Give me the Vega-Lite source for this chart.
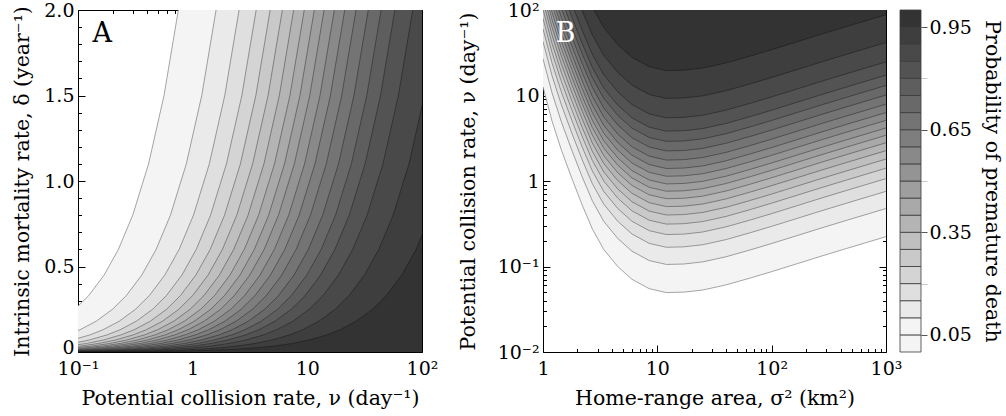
{
"$schema": "https://vega.github.io/schema/vega-lite/v6.json",
"background": "white",
"padding": {"left": 12, "top": 1, "right": 3, "bottom": 0},
"bounds": "flush",
"spacing": 121,
"datasets": {
"A": [
{"k":1,"d":2,"v":0.75},{"k":1,"d":1.5,"v":0.5625},{"k":1,"d":1.1,"v":0.4125},{"k":1,"d":0.8,"v":0.3},{"k":1,"d":0.6,"v":0.225},{"k":1,"d":0.45,"v":0.169},{"k":1,"d":0.33,"v":0.124},{"k":1,"d":0.25,"v":0.0938},{"k":1,"d":0,"v":0.0001},
{"k":2,"d":2,"v":1.6},{"k":2,"d":1.5,"v":1.2},{"k":2,"d":1.1,"v":0.88},{"k":2,"d":0.8,"v":0.64},{"k":2,"d":0.6,"v":0.48},{"k":2,"d":0.45,"v":0.36},{"k":2,"d":0.33,"v":0.264},{"k":2,"d":0.25,"v":0.2},{"k":2,"d":0.18,"v":0.144},{"k":2,"d":0.13,"v":0.104},{"k":2,"d":0.1,"v":0.08},{"k":2,"d":0,"v":0.0001},
{"k":3,"d":2,"v":2.54},{"k":3,"d":1.5,"v":1.905},{"k":3,"d":1.1,"v":1.397},{"k":3,"d":0.8,"v":1.016},{"k":3,"d":0.6,"v":0.762},{"k":3,"d":0.45,"v":0.5715},{"k":3,"d":0.33,"v":0.419},{"k":3,"d":0.25,"v":0.3175},{"k":3,"d":0.18,"v":0.2286},{"k":3,"d":0.13,"v":0.165},{"k":3,"d":0.1,"v":0.127},{"k":3,"d":0.07,"v":0.0889},{"k":3,"d":0,"v":0.0001},
{"k":4,"d":2,"v":3.58},{"k":4,"d":1.5,"v":2.685},{"k":4,"d":1.1,"v":1.969},{"k":4,"d":0.8,"v":1.432},{"k":4,"d":0.6,"v":1.074},{"k":4,"d":0.45,"v":0.8055},{"k":4,"d":0.33,"v":0.5907},{"k":4,"d":0.25,"v":0.4475},{"k":4,"d":0.18,"v":0.3222},{"k":4,"d":0.13,"v":0.2327},{"k":4,"d":0.1,"v":0.179},{"k":4,"d":0.07,"v":0.1253},{"k":4,"d":0.05,"v":0.0895},{"k":4,"d":0,"v":0.0001},
{"k":5,"d":2,"v":4.74},{"k":5,"d":1.5,"v":3.555},{"k":5,"d":1.1,"v":2.607},{"k":5,"d":0.8,"v":1.896},{"k":5,"d":0.6,"v":1.422},{"k":5,"d":0.45,"v":1.0665},{"k":5,"d":0.33,"v":0.7821},{"k":5,"d":0.25,"v":0.5925},{"k":5,"d":0.18,"v":0.4266},{"k":5,"d":0.13,"v":0.3081},{"k":5,"d":0.1,"v":0.237},{"k":5,"d":0.07,"v":0.1659},{"k":5,"d":0.05,"v":0.1185},{"k":5,"d":0.035,"v":0.083},{"k":5,"d":0,"v":0.0001},
{"k":6,"d":2,"v":6.06},{"k":6,"d":1.5,"v":4.545},{"k":6,"d":1.1,"v":3.333},{"k":6,"d":0.8,"v":2.424},{"k":6,"d":0.6,"v":1.818},{"k":6,"d":0.45,"v":1.3635},{"k":6,"d":0.33,"v":1.0},{"k":6,"d":0.25,"v":0.7575},{"k":6,"d":0.18,"v":0.5454},{"k":6,"d":0.13,"v":0.3939},{"k":6,"d":0.1,"v":0.303},{"k":6,"d":0.07,"v":0.2121},{"k":6,"d":0.05,"v":0.1515},{"k":6,"d":0.035,"v":0.106},{"k":6,"d":0.025,"v":0.0758},{"k":6,"d":0,"v":0.0001},
{"k":7,"d":2,"v":7.6},{"k":7,"d":1.5,"v":5.7},{"k":7,"d":1.1,"v":4.18},{"k":7,"d":0.8,"v":3.04},{"k":7,"d":0.6,"v":2.28},{"k":7,"d":0.45,"v":1.71},{"k":7,"d":0.33,"v":1.254},{"k":7,"d":0.25,"v":0.95},{"k":7,"d":0.18,"v":0.684},{"k":7,"d":0.13,"v":0.494},{"k":7,"d":0.1,"v":0.38},{"k":7,"d":0.07,"v":0.266},{"k":7,"d":0.05,"v":0.19},{"k":7,"d":0.035,"v":0.133},{"k":7,"d":0.025,"v":0.095},{"k":7,"d":0,"v":0.0001},
{"k":8,"d":2,"v":9.4},{"k":8,"d":1.5,"v":7.05},{"k":8,"d":1.1,"v":5.17},{"k":8,"d":0.8,"v":3.76},{"k":8,"d":0.6,"v":2.82},{"k":8,"d":0.45,"v":2.115},{"k":8,"d":0.33,"v":1.551},{"k":8,"d":0.25,"v":1.175},{"k":8,"d":0.18,"v":0.846},{"k":8,"d":0.13,"v":0.611},{"k":8,"d":0.1,"v":0.47},{"k":8,"d":0.07,"v":0.329},{"k":8,"d":0.05,"v":0.235},{"k":8,"d":0.035,"v":0.1645},{"k":8,"d":0.025,"v":0.1175},{"k":8,"d":0.018,"v":0.0846},{"k":8,"d":0,"v":0.0001},
{"k":9,"d":2,"v":11.5},{"k":9,"d":1.5,"v":8.625},{"k":9,"d":1.1,"v":6.325},{"k":9,"d":0.8,"v":4.6},{"k":9,"d":0.6,"v":3.45},{"k":9,"d":0.45,"v":2.5875},{"k":9,"d":0.33,"v":1.8975},{"k":9,"d":0.25,"v":1.4375},{"k":9,"d":0.18,"v":1.035},{"k":9,"d":0.13,"v":0.7475},{"k":9,"d":0.1,"v":0.575},{"k":9,"d":0.07,"v":0.4025},{"k":9,"d":0.05,"v":0.2875},{"k":9,"d":0.035,"v":0.2013},{"k":9,"d":0.025,"v":0.1438},{"k":9,"d":0.018,"v":0.1035},{"k":9,"d":0.012,"v":0.069},{"k":9,"d":0,"v":0.0001},
{"k":10,"d":2,"v":14},{"k":10,"d":1.5,"v":10.5},{"k":10,"d":1.1,"v":7.7},{"k":10,"d":0.8,"v":5.6},{"k":10,"d":0.6,"v":4.2},{"k":10,"d":0.45,"v":3.15},{"k":10,"d":0.33,"v":2.31},{"k":10,"d":0.25,"v":1.75},{"k":10,"d":0.18,"v":1.26},{"k":10,"d":0.13,"v":0.91},{"k":10,"d":0.1,"v":0.7},{"k":10,"d":0.07,"v":0.49},{"k":10,"d":0.05,"v":0.35},{"k":10,"d":0.035,"v":0.245},{"k":10,"d":0.025,"v":0.175},{"k":10,"d":0.018,"v":0.126},{"k":10,"d":0.012,"v":0.084},{"k":10,"d":0,"v":0.0001},
{"k":11,"d":2,"v":17.2},{"k":11,"d":1.5,"v":12.9},{"k":11,"d":1.1,"v":9.46},{"k":11,"d":0.8,"v":6.88},{"k":11,"d":0.6,"v":5.16},{"k":11,"d":0.45,"v":3.87},{"k":11,"d":0.33,"v":2.838},{"k":11,"d":0.25,"v":2.15},{"k":11,"d":0.18,"v":1.548},{"k":11,"d":0.13,"v":1.118},{"k":11,"d":0.1,"v":0.86},{"k":11,"d":0.07,"v":0.602},{"k":11,"d":0.05,"v":0.43},{"k":11,"d":0.035,"v":0.301},{"k":11,"d":0.025,"v":0.215},{"k":11,"d":0.018,"v":0.1548},{"k":11,"d":0.012,"v":0.1032},{"k":11,"d":0.008,"v":0.0688},{"k":11,"d":0,"v":0.0001},
{"k":12,"d":2,"v":21.2},{"k":12,"d":1.5,"v":15.9},{"k":12,"d":1.1,"v":11.66},{"k":12,"d":0.8,"v":8.48},{"k":12,"d":0.6,"v":6.36},{"k":12,"d":0.45,"v":4.77},{"k":12,"d":0.33,"v":3.498},{"k":12,"d":0.25,"v":2.65},{"k":12,"d":0.18,"v":1.908},{"k":12,"d":0.13,"v":1.378},{"k":12,"d":0.1,"v":1.06},{"k":12,"d":0.07,"v":0.742},{"k":12,"d":0.05,"v":0.53},{"k":12,"d":0.035,"v":0.371},{"k":12,"d":0.025,"v":0.265},{"k":12,"d":0.018,"v":0.1908},{"k":12,"d":0.012,"v":0.1272},{"k":12,"d":0.008,"v":0.0848},{"k":12,"d":0,"v":0.0001},
{"k":13,"d":2,"v":26.6},{"k":13,"d":1.5,"v":19.95},{"k":13,"d":1.1,"v":14.63},{"k":13,"d":0.8,"v":10.64},{"k":13,"d":0.6,"v":7.98},{"k":13,"d":0.45,"v":5.985},{"k":13,"d":0.33,"v":4.389},{"k":13,"d":0.25,"v":3.325},{"k":13,"d":0.18,"v":2.394},{"k":13,"d":0.13,"v":1.729},{"k":13,"d":0.1,"v":1.33},{"k":13,"d":0.07,"v":0.931},{"k":13,"d":0.05,"v":0.665},{"k":13,"d":0.035,"v":0.4655},{"k":13,"d":0.025,"v":0.3325},{"k":13,"d":0.018,"v":0.2394},{"k":13,"d":0.012,"v":0.1596},{"k":13,"d":0.008,"v":0.1064},{"k":13,"d":0.005,"v":0.0665},{"k":13,"d":0,"v":0.0001},
{"k":14,"d":2,"v":34},{"k":14,"d":1.5,"v":25.5},{"k":14,"d":1.1,"v":18.7},{"k":14,"d":0.8,"v":13.6},{"k":14,"d":0.6,"v":10.2},{"k":14,"d":0.45,"v":7.65},{"k":14,"d":0.33,"v":5.61},{"k":14,"d":0.25,"v":4.25},{"k":14,"d":0.18,"v":3.06},{"k":14,"d":0.13,"v":2.21},{"k":14,"d":0.1,"v":1.7},{"k":14,"d":0.07,"v":1.19},{"k":14,"d":0.05,"v":0.85},{"k":14,"d":0.035,"v":0.595},{"k":14,"d":0.025,"v":0.425},{"k":14,"d":0.018,"v":0.306},{"k":14,"d":0.012,"v":0.204},{"k":14,"d":0.008,"v":0.136},{"k":14,"d":0.005,"v":0.085},{"k":14,"d":0,"v":0.0001},
{"k":15,"d":2,"v":44},{"k":15,"d":1.5,"v":33},{"k":15,"d":1.1,"v":24.2},{"k":15,"d":0.8,"v":17.6},{"k":15,"d":0.6,"v":13.2},{"k":15,"d":0.45,"v":9.9},{"k":15,"d":0.33,"v":7.26},{"k":15,"d":0.25,"v":5.5},{"k":15,"d":0.18,"v":3.96},{"k":15,"d":0.13,"v":2.86},{"k":15,"d":0.1,"v":2.2},{"k":15,"d":0.07,"v":1.54},{"k":15,"d":0.05,"v":1.1},{"k":15,"d":0.035,"v":0.77},{"k":15,"d":0.025,"v":0.55},{"k":15,"d":0.018,"v":0.396},{"k":15,"d":0.012,"v":0.264},{"k":15,"d":0.008,"v":0.176},{"k":15,"d":0.005,"v":0.11},{"k":15,"d":0.003,"v":0.066},{"k":15,"d":0,"v":0.0001},
{"k":16,"d":2,"v":58},{"k":16,"d":1.5,"v":43.5},{"k":16,"d":1.1,"v":31.9},{"k":16,"d":0.8,"v":23.2},{"k":16,"d":0.6,"v":17.4},{"k":16,"d":0.45,"v":13.05},{"k":16,"d":0.33,"v":9.57},{"k":16,"d":0.25,"v":7.25},{"k":16,"d":0.18,"v":5.22},{"k":16,"d":0.13,"v":3.77},{"k":16,"d":0.1,"v":2.9},{"k":16,"d":0.07,"v":2.03},{"k":16,"d":0.05,"v":1.45},{"k":16,"d":0.035,"v":1.015},{"k":16,"d":0.025,"v":0.725},{"k":16,"d":0.018,"v":0.522},{"k":16,"d":0.012,"v":0.348},{"k":16,"d":0.008,"v":0.232},{"k":16,"d":0.005,"v":0.145},{"k":16,"d":0.003,"v":0.087},{"k":16,"d":0,"v":0.0001},
{"k":17,"d":2,"v":83},{"k":17,"d":1.5,"v":62.25},{"k":17,"d":1.1,"v":45.65},{"k":17,"d":0.8,"v":33.2},{"k":17,"d":0.6,"v":24.9},{"k":17,"d":0.45,"v":18.68},{"k":17,"d":0.33,"v":13.7},{"k":17,"d":0.25,"v":10.38},{"k":17,"d":0.18,"v":7.47},{"k":17,"d":0.13,"v":5.395},{"k":17,"d":0.1,"v":4.15},{"k":17,"d":0.07,"v":2.905},{"k":17,"d":0.05,"v":2.075},{"k":17,"d":0.035,"v":1.453},{"k":17,"d":0.025,"v":1.038},{"k":17,"d":0.018,"v":0.747},{"k":17,"d":0.012,"v":0.498},{"k":17,"d":0.008,"v":0.332},{"k":17,"d":0.005,"v":0.2075},{"k":17,"d":0.003,"v":0.1245},{"k":17,"d":0.0015,"v":0.0623},{"k":17,"d":0,"v":0.0001},
{"k":18,"d":2,"v":140},{"k":18,"d":1.5,"v":105},{"k":18,"d":1.1,"v":77},{"k":18,"d":0.8,"v":56},{"k":18,"d":0.6,"v":42},{"k":18,"d":0.45,"v":31.5},{"k":18,"d":0.33,"v":23.1},{"k":18,"d":0.25,"v":17.5},{"k":18,"d":0.18,"v":12.6},{"k":18,"d":0.13,"v":9.1},{"k":18,"d":0.1,"v":7},{"k":18,"d":0.07,"v":4.9},{"k":18,"d":0.05,"v":3.5},{"k":18,"d":0.035,"v":2.45},{"k":18,"d":0.025,"v":1.75},{"k":18,"d":0.018,"v":1.26},{"k":18,"d":0.012,"v":0.84},{"k":18,"d":0.008,"v":0.56},{"k":18,"d":0.005,"v":0.35},{"k":18,"d":0.003,"v":0.21},{"k":18,"d":0.0015,"v":0.105},{"k":18,"d":0.0007,"v":0.049},{"k":18,"d":0,"v":0.0001},
{"k":19,"d":0.8,"v":118.4},{"k":19,"d":0.6,"v":88.8},{"k":19,"d":0.45,"v":66.6},{"k":19,"d":0.33,"v":48.84},{"k":19,"d":0.25,"v":37},{"k":19,"d":0.18,"v":26.64},{"k":19,"d":0.13,"v":19.24},{"k":19,"d":0.1,"v":14.8},{"k":19,"d":0.07,"v":10.36},{"k":19,"d":0.05,"v":7.4},{"k":19,"d":0.035,"v":5.18},{"k":19,"d":0.025,"v":3.7},{"k":19,"d":0.018,"v":2.664},{"k":19,"d":0.012,"v":1.776},{"k":19,"d":0.008,"v":1.184},{"k":19,"d":0.005,"v":0.74},{"k":19,"d":0.003,"v":0.444},{"k":19,"d":0.0015,"v":0.222},{"k":19,"d":0.0007,"v":0.1036},{"k":19,"d":0.0003,"v":0.0444},{"k":19,"d":0,"v":0.0001}
],
"B": [
{"k":1,"s":1,"v":12.6},{"k":1,"s":1.2,"v":5.01},{"k":1,"s":1.45,"v":2.29},{"k":1,"s":1.8,"v":1.047},{"k":1,"s":2.2,"v":0.525},{"k":1,"s":2.7,"v":0.275},{"k":1,"s":3.4,"v":0.158},{"k":1,"s":4.5,"v":0.1},{"k":1,"s":6,"v":0.0708},{"k":1,"s":8.5,"v":0.055},{"k":1,"s":12,"v":0.04955},{"k":1,"s":17,"v":0.0501},{"k":1,"s":25,"v":0.0531},{"k":1,"s":40,"v":0.061},{"k":1,"s":65,"v":0.0733},{"k":1,"s":100,"v":0.0871},{"k":1,"s":160,"v":0.1059},{"k":1,"s":270,"v":0.1318},{"k":1,"s":450,"v":0.1622},{"k":1,"s":1000,"v":0.2234},
{"k":2,"s":1,"v":26.9},{"k":2,"s":1.2,"v":10.69},{"k":2,"s":1.45,"v":4.885},{"k":2,"s":1.8,"v":2.233},{"k":2,"s":2.2,"v":1.12},{"k":2,"s":2.7,"v":0.587},{"k":2,"s":3.4,"v":0.337},{"k":2,"s":4.5,"v":0.2133},{"k":2,"s":6,"v":0.151},{"k":2,"s":8.5,"v":0.1173},{"k":2,"s":12,"v":0.1057},{"k":2,"s":17,"v":0.1069},{"k":2,"s":25,"v":0.1133},{"k":2,"s":40,"v":0.1301},{"k":2,"s":65,"v":0.1564},{"k":2,"s":100,"v":0.1858},{"k":2,"s":160,"v":0.2259},{"k":2,"s":270,"v":0.2811},{"k":2,"s":450,"v":0.346},{"k":2,"s":1000,"v":0.4765},
{"k":3,"s":1,"v":42.7},{"k":3,"s":1.2,"v":16.97},{"k":3,"s":1.45,"v":7.756},{"k":3,"s":1.8,"v":3.546},{"k":3,"s":2.2,"v":1.778},{"k":3,"s":2.7,"v":0.9314},{"k":3,"s":3.4,"v":0.5351},{"k":3,"s":4.5,"v":0.3387},{"k":3,"s":6,"v":0.2398},{"k":3,"s":8.5,"v":0.1863},{"k":3,"s":12,"v":0.1678},{"k":3,"s":17,"v":0.1697},{"k":3,"s":25,"v":0.1798},{"k":3,"s":40,"v":0.2066},{"k":3,"s":65,"v":0.2483},{"k":3,"s":100,"v":0.295},{"k":3,"s":160,"v":0.3587},{"k":3,"s":270,"v":0.4464},{"k":3,"s":450,"v":0.5494},{"k":3,"s":1000,"v":0.7566},
{"k":4,"s":1,"v":60.1},{"k":4,"s":1.2,"v":23.91},{"k":4,"s":1.45,"v":10.93},{"k":4,"s":1.8,"v":4.997},{"k":4,"s":2.2,"v":2.506},{"k":4,"s":2.7,"v":1.313},{"k":4,"s":3.4,"v":0.7541},{"k":4,"s":4.5,"v":0.4773},{"k":4,"s":6,"v":0.3379},{"k":4,"s":8.5,"v":0.2625},{"k":4,"s":12,"v":0.2365},{"k":4,"s":17,"v":0.2391},{"k":4,"s":25,"v":0.2534},{"k":4,"s":40,"v":0.2912},{"k":4,"s":65,"v":0.3499},{"k":4,"s":100,"v":0.4157},{"k":4,"s":160,"v":0.5055},{"k":4,"s":270,"v":0.6291},{"k":4,"s":450,"v":0.7742},{"k":4,"s":1000,"v":1.0663},
{"k":5,"s":1,"v":79.6},{"k":5,"s":1.2,"v":31.66},{"k":5,"s":1.45,"v":14.47},{"k":5,"s":1.8,"v":6.617},{"k":5,"s":2.2,"v":3.318},{"k":5,"s":2.7,"v":1.738},{"k":5,"s":3.4,"v":0.9986},{"k":5,"s":4.5,"v":0.632},{"k":5,"s":6,"v":0.4475},{"k":5,"s":8.5,"v":0.3476},{"k":5,"s":12,"v":0.3132},{"k":5,"s":17,"v":0.3166},{"k":5,"s":25,"v":0.3356},{"k":5,"s":40,"v":0.3855},{"k":5,"s":65,"v":0.4633},{"k":5,"s":100,"v":0.5505},{"k":5,"s":160,"v":0.6693},{"k":5,"s":270,"v":0.833},{"k":5,"s":450,"v":1.0251},{"k":5,"s":1000,"v":1.4119},
{"k":6,"s":1,"v":101.8},{"k":6,"s":1.2,"v":40.48},{"k":6,"s":1.45,"v":18.5},{"k":6,"s":1.8,"v":8.46},{"k":6,"s":2.2,"v":4.242},{"k":6,"s":2.7,"v":2.222},{"k":6,"s":3.4,"v":1.277},{"k":6,"s":4.5,"v":0.808},{"k":6,"s":6,"v":0.5721},{"k":6,"s":8.5,"v":0.4444},{"k":6,"s":12,"v":0.4004},{"k":6,"s":17,"v":0.4048},{"k":6,"s":25,"v":0.429},{"k":6,"s":40,"v":0.4929},{"k":6,"s":65,"v":0.5923},{"k":6,"s":100,"v":0.7038},{"k":6,"s":160,"v":0.8557},{"k":6,"s":270,"v":1.0649},{"k":6,"s":450,"v":1.3106},{"k":6,"s":1000,"v":1.8051},
{"k":7,"s":1,"v":127.6},{"k":7,"s":1.2,"v":50.75},{"k":7,"s":1.45,"v":23.2},{"k":7,"s":1.8,"v":10.61},{"k":7,"s":2.2,"v":5.318},{"k":7,"s":2.7,"v":2.786},{"k":7,"s":3.4,"v":1.601},{"k":7,"s":4.5,"v":1.013},{"k":7,"s":6,"v":0.7172},{"k":7,"s":8.5,"v":0.5572},{"k":7,"s":12,"v":0.5019},{"k":7,"s":17,"v":0.5075},{"k":7,"s":25,"v":0.5379},{"k":7,"s":40,"v":0.6179},{"k":7,"s":65,"v":0.7425},{"k":7,"s":100,"v":0.8823},{"k":7,"s":160,"v":1.0728},{"k":7,"s":270,"v":1.3351},{"k":7,"s":450,"v":1.6431},{"k":7,"s":1000,"v":2.263},
{"k":8,"s":1,"v":157.9},{"k":8,"s":1.2,"v":62.78},{"k":8,"s":1.45,"v":28.69},{"k":8,"s":1.8,"v":13.12},{"k":8,"s":2.2,"v":6.578},{"k":8,"s":2.7,"v":3.446},{"k":8,"s":3.4,"v":1.98},{"k":8,"s":4.5,"v":1.253},{"k":8,"s":6,"v":0.8871},{"k":8,"s":8.5,"v":0.6892},{"k":8,"s":12,"v":0.6209},{"k":8,"s":17,"v":0.6278},{"k":8,"s":25,"v":0.6653},{"k":8,"s":40,"v":0.7643},{"k":8,"s":65,"v":0.9184},{"k":8,"s":100,"v":1.0914},{"k":8,"s":160,"v":1.3269},{"k":8,"s":270,"v":1.6515},{"k":8,"s":450,"v":2.0324},{"k":8,"s":1000,"v":2.7992},
{"k":9,"s":1,"v":193.2},{"k":9,"s":1.2,"v":76.8},{"k":9,"s":1.45,"v":35.1},{"k":9,"s":1.8,"v":16.05},{"k":9,"s":2.2,"v":8.048},{"k":9,"s":2.7,"v":4.216},{"k":9,"s":3.4,"v":2.422},{"k":9,"s":4.5,"v":1.533},{"k":9,"s":6,"v":1.0854},{"k":9,"s":8.5,"v":0.8432},{"k":9,"s":12,"v":0.7596},{"k":9,"s":17,"v":0.768},{"k":9,"s":25,"v":0.814},{"k":9,"s":40,"v":0.9351},{"k":9,"s":65,"v":1.1237},{"k":9,"s":100,"v":1.3352},{"k":9,"s":160,"v":1.6234},{"k":9,"s":270,"v":2.0205},{"k":9,"s":450,"v":2.4865},{"k":9,"s":1000,"v":3.4247},
{"k":10,"s":1,"v":235},{"k":10,"s":1.2,"v":93.5},{"k":10,"s":1.45,"v":42.75},{"k":10,"s":1.8,"v":19.55},{"k":10,"s":2.2,"v":9.8},{"k":10,"s":2.7,"v":5.134},{"k":10,"s":3.4,"v":2.95},{"k":10,"s":4.5,"v":1.867},{"k":10,"s":6,"v":1.3218},{"k":10,"s":8.5,"v":1.0269},{"k":10,"s":12,"v":0.9251},{"k":10,"s":17,"v":0.9354},{"k":10,"s":25,"v":0.9914},{"k":10,"s":40,"v":1.1389},{"k":10,"s":65,"v":1.3685},{"k":10,"s":100,"v":1.6262},{"k":10,"s":160,"v":1.9772},{"k":10,"s":270,"v":2.4607},{"k":10,"s":450,"v":3.0283},{"k":10,"s":1000,"v":4.1709},
{"k":11,"s":1.2,"v":114.9},{"k":11,"s":1.45,"v":52.51},{"k":11,"s":1.8,"v":24.01},{"k":11,"s":2.2,"v":12.04},{"k":11,"s":2.7,"v":6.306},{"k":11,"s":3.4,"v":3.623},{"k":11,"s":4.5,"v":2.293},{"k":11,"s":6,"v":1.6234},{"k":11,"s":8.5,"v":1.2612},{"k":11,"s":12,"v":1.1362},{"k":11,"s":17,"v":1.1488},{"k":11,"s":25,"v":1.2176},{"k":11,"s":40,"v":1.3987},{"k":11,"s":65,"v":1.6808},{"k":11,"s":100,"v":1.9972},{"k":11,"s":160,"v":2.4283},{"k":11,"s":270,"v":3.0222},{"k":11,"s":450,"v":3.7192},{"k":11,"s":1000,"v":5.1226},
{"k":12,"s":1.2,"v":141.6},{"k":12,"s":1.45,"v":64.74},{"k":12,"s":1.8,"v":29.6},{"k":12,"s":2.2,"v":14.84},{"k":12,"s":2.7,"v":7.774},{"k":12,"s":3.4,"v":4.467},{"k":12,"s":4.5,"v":2.827},{"k":12,"s":6,"v":2.0015},{"k":12,"s":8.5,"v":1.5549},{"k":12,"s":12,"v":1.4008},{"k":12,"s":17,"v":1.4163},{"k":12,"s":25,"v":1.5011},{"k":12,"s":40,"v":1.7245},{"k":12,"s":65,"v":2.0722},{"k":12,"s":100,"v":2.4623},{"k":12,"s":160,"v":2.9938},{"k":12,"s":270,"v":3.726},{"k":12,"s":450,"v":4.5854},{"k":12,"s":1000,"v":6.3155},
{"k":13,"s":1.2,"v":177.7},{"k":13,"s":1.45,"v":81.23},{"k":13,"s":1.8,"v":37.14},{"k":13,"s":2.2,"v":18.62},{"k":13,"s":2.7,"v":9.754},{"k":13,"s":3.4,"v":5.604},{"k":13,"s":4.5,"v":3.547},{"k":13,"s":6,"v":2.5113},{"k":13,"s":8.5,"v":1.9509},{"k":13,"s":12,"v":1.7575},{"k":13,"s":17,"v":1.777},{"k":13,"s":25,"v":1.8835},{"k":13,"s":40,"v":2.1637},{"k":13,"s":65,"v":2.6},{"k":13,"s":100,"v":3.0894},{"k":13,"s":160,"v":3.7563},{"k":13,"s":270,"v":4.6749},{"k":13,"s":450,"v":5.7532},{"k":13,"s":1000,"v":7.924},
{"k":14,"s":1.45,"v":103.8},{"k":14,"s":1.8,"v":47.46},{"k":14,"s":2.2,"v":23.8},{"k":14,"s":2.7,"v":12.47},{"k":14,"s":3.4,"v":7.162},{"k":14,"s":4.5,"v":4.533},{"k":14,"s":6,"v":3.2094},{"k":14,"s":8.5,"v":2.4932},{"k":14,"s":12,"v":2.2461},{"k":14,"s":17,"v":2.271},{"k":14,"s":25,"v":2.407},{"k":14,"s":40,"v":2.7651},{"k":14,"s":65,"v":3.3227},{"k":14,"s":100,"v":3.9482},{"k":14,"s":160,"v":4.8004},{"k":14,"s":270,"v":5.9745},{"k":14,"s":450,"v":7.3525},{"k":14,"s":1000,"v":10.127},
{"k":15,"s":1.45,"v":134.4},{"k":15,"s":1.8,"v":61.43},{"k":15,"s":2.2,"v":30.8},{"k":15,"s":2.7,"v":16.13},{"k":15,"s":3.4,"v":9.27},{"k":15,"s":4.5,"v":5.867},{"k":15,"s":6,"v":4.1538},{"k":15,"s":8.5,"v":3.2269},{"k":15,"s":12,"v":2.9071},{"k":15,"s":17,"v":2.9394},{"k":15,"s":25,"v":3.1154},{"k":15,"s":40,"v":3.5789},{"k":15,"s":65,"v":4.3005},{"k":15,"s":100,"v":5.1102},{"k":15,"s":160,"v":6.2132},{"k":15,"s":270,"v":7.7327},{"k":15,"s":450,"v":9.5163},{"k":15,"s":1000,"v":13.107},
{"k":16,"s":1.45,"v":177.1},{"k":16,"s":1.8,"v":80.97},{"k":16,"s":2.2,"v":40.6},{"k":16,"s":2.7,"v":21.27},{"k":16,"s":3.4,"v":12.22},{"k":16,"s":4.5,"v":7.733},{"k":16,"s":6,"v":5.475},{"k":16,"s":8.5,"v":4.2532},{"k":16,"s":12,"v":3.8317},{"k":16,"s":17,"v":3.8742},{"k":16,"s":25,"v":4.1062},{"k":16,"s":40,"v":4.7171},{"k":16,"s":65,"v":5.6683},{"k":16,"s":100,"v":6.7354},{"k":16,"s":160,"v":8.1892},{"k":16,"s":270,"v":10.192},{"k":16,"s":450,"v":12.543},{"k":16,"s":1000,"v":17.276},
{"k":17,"s":1.8,"v":115.9},{"k":17,"s":2.2,"v":58.12},{"k":17,"s":2.7,"v":30.44},{"k":17,"s":3.4,"v":17.49},{"k":17,"s":4.5,"v":11.07},{"k":17,"s":6,"v":7.8376},{"k":17,"s":8.5,"v":6.0885},{"k":17,"s":12,"v":5.4852},{"k":17,"s":17,"v":5.5461},{"k":17,"s":25,"v":5.8782},{"k":17,"s":40,"v":6.7527},{"k":17,"s":65,"v":8.1143},{"k":17,"s":100,"v":9.642},{"k":17,"s":160,"v":11.723},{"k":17,"s":270,"v":14.59},{"k":17,"s":450,"v":17.956},{"k":17,"s":1000,"v":24.73},
{"k":18,"s":1.8,"v":195.5},{"k":18,"s":2.2,"v":98.02},{"k":18,"s":2.7,"v":51.34},{"k":18,"s":3.4,"v":29.5},{"k":18,"s":4.5,"v":18.67},{"k":18,"s":6,"v":13.218},{"k":18,"s":8.5,"v":10.269},{"k":18,"s":12,"v":9.251},{"k":18,"s":17,"v":9.3537},{"k":18,"s":25,"v":9.9138},{"k":18,"s":40,"v":11.389},{"k":18,"s":65,"v":13.685},{"k":18,"s":100,"v":16.262},{"k":18,"s":160,"v":19.772},{"k":18,"s":270,"v":24.607},{"k":18,"s":450,"v":30.283},{"k":18,"s":1000,"v":41.709},
{"k":19,"s":2.7,"v":108.5},{"k":19,"s":3.4,"v":62.36},{"k":19,"s":4.5,"v":39.47},{"k":19,"s":6,"v":27.945},{"k":19,"s":8.5,"v":21.709},{"k":19,"s":12,"v":19.557},{"k":19,"s":17,"v":19.774},{"k":19,"s":25,"v":20.958},{"k":19,"s":40,"v":24.077},{"k":19,"s":65,"v":28.931},{"k":19,"s":100,"v":34.378},{"k":19,"s":160,"v":41.799},{"k":19,"s":270,"v":52.021},{"k":19,"s":450,"v":64.02},{"k":19,"s":1000,"v":88.175}
],
"cb": [
{"k":0,"lo":0,"hi":0.05},{"k":1,"lo":0.05,"hi":0.1},{"k":2,"lo":0.1,"hi":0.15},{"k":3,"lo":0.15,"hi":0.2},{"k":4,"lo":0.2,"hi":0.25},{"k":5,"lo":0.25,"hi":0.3},{"k":6,"lo":0.3,"hi":0.35},{"k":7,"lo":0.35,"hi":0.4},{"k":8,"lo":0.4,"hi":0.45},{"k":9,"lo":0.45,"hi":0.5},{"k":10,"lo":0.5,"hi":0.55},{"k":11,"lo":0.55,"hi":0.6},{"k":12,"lo":0.6,"hi":0.65},{"k":13,"lo":0.65,"hi":0.7},{"k":14,"lo":0.7,"hi":0.75},{"k":15,"lo":0.75,"hi":0.8},{"k":16,"lo":0.8,"hi":0.85},{"k":17,"lo":0.85,"hi":0.9},{"k":18,"lo":0.9,"hi":0.95},{"k":19,"lo":0.95,"hi":1}
]
},
"hconcat": [
{
"width": 344, "height": 342,
"resolve": {"axis": {"x": "independent", "y": "independent"}},
"layer": [
{
"data": {"name": "A"},
"mark": {"type": "area", "orient": "horizontal", "clip": true},
"encoding": {
"y": {"field": "d", "type": "quantitative", "scale": {"domain": [0, 2], "nice": false, "zero": false},
 "axis": {"orient": "left", "values": [0, 0.5, 1, 1.5, 2], "labelExpr": "datum.value == 0 ? '0' : format(datum.value, '.1f')", "labelOffset": {"condition": {"test": "datum.value == 0", "value": -5}, "value": 0}, "tickSize": -7, "labelPadding": 11, "title": "Intrinsic mortality rate, δ (year⁻¹)", "titleX": -50, "titleBaseline": "alphabetic"}},
"x": {"field": "v", "type": "quantitative", "scale": {"type": "log", "domain": [0.1, 100], "nice": false},
 "axis": {"orient": "bottom", "values": [0.1, 1, 10, 100], "labelExpr": "datum.value < 0.5 ? '10⁻¹' : datum.value < 5 ? '1' : datum.value < 50 ? '10' : '10²'", "tickSize": -7, "labelPadding": 14, "title": "Potential collision rate, ν (day⁻¹)", "titleY": 52, "titleBaseline": "alphabetic"}},
"x2": {"datum": 1000000},
"fill": {"field": "k", "type": "ordinal", "legend": null,
 "scale": {"domain": [1,2,3,4,5,6,7,8,9,10,11,12,13,14,15,16,17,18,19], "range": ["#f4f4f4","#eaeaea","#dfdfdf","#d4d4d4","#c9c9c9","#bfbfbf","#b4b4b4","#a9a9a9","#9e9e9e","#949494","#898989","#7e7e7e","#747474","#696969","#5e5e5e","#535353","#494949","#3e3e3e","#333333"]}}
}
},
{
"data": {"name": "A"},
"mark": {"type": "line", "orient": "horizontal", "clip": true, "strokeWidth": 0.7},
"encoding": {
"y": {"field": "d", "type": "quantitative", "scale": {"domain": [0, 2], "nice": false, "zero": false},
 "axis": {"orient": "left", "values": [0.1,0.2,0.3,0.4,0.6,0.7,0.8,0.9,1.1,1.2,1.3,1.4,1.6,1.7,1.8,1.9], "labels": false, "tickSize": -3.5, "title": null, "domain": false}},
"x": {"field": "v", "type": "quantitative", "scale": {"type": "log", "domain": [0.1, 100], "nice": false},
 "axis": {"orient": "bottom", "values": [0.2,0.3,0.4,0.5,0.6,0.7,0.8,0.9,2,3,4,5,6,7,8,9,20,30,40,50,60,70,80,90], "labels": false, "tickSize": -3.5, "title": null, "domain": false}},
"detail": {"field": "k", "type": "nominal"},
"stroke": {"field": "k", "type": "quantitative", "legend": null, "scale": {"domain": [1, 19], "range": ["#808080", "#1e1e1e"]}}
}
},
{
"data": {"values": [{"t": "A", "x": 0.163, "y": 1.813}]},
"mark": {"type": "text", "fontSize": 27, "font": "DejaVu Serif", "align": "center", "baseline": "alphabetic", "color": "#000"},
"encoding": {
"y": {"field": "y", "type": "quantitative", "scale": {"domain": [0, 2], "nice": false, "zero": false},
 "axis": {"orient": "right", "values": [0, 0.5, 1, 1.5, 2], "labels": false, "tickSize": -7, "title": null}},
"x": {"field": "x", "type": "quantitative", "scale": {"type": "log", "domain": [0.1, 100], "nice": false},
 "axis": {"orient": "top", "values": [0.1, 1, 10, 100], "labels": false, "tickSize": -7, "title": null}},
"text": {"field": "t"}
}
},
{
"data": {"values": [{"t": "", "x": 1, "y": 1}]},
"mark": {"type": "text", "opacity": 0},
"encoding": {
"y": {"field": "y", "type": "quantitative", "scale": {"domain": [0, 2], "nice": false, "zero": false},
 "axis": {"orient": "right", "values": [0.1,0.2,0.3,0.4,0.6,0.7,0.8,0.9,1.1,1.2,1.3,1.4,1.6,1.7,1.8,1.9], "labels": false, "tickSize": -3.5, "title": null, "domain": false}},
"x": {"field": "x", "type": "quantitative", "scale": {"type": "log", "domain": [0.1, 100], "nice": false},
 "axis": {"orient": "top", "values": [0.2,0.3,0.4,0.5,0.6,0.7,0.8,0.9,2,3,4,5,6,7,8,9,20,30,40,50,60,70,80,90], "labels": false, "tickSize": -3.5, "title": null, "domain": false}},
"text": {"field": "t"}
}
}
]
},
{
"bounds": "flush",
"spacing": 14,
"hconcat": [
{
"width": 343, "height": 342,
"resolve": {"axis": {"x": "independent", "y": "independent"}},
"layer": [
{
"data": {"name": "B"},
"mark": {"type": "area", "orient": "vertical", "clip": true},
"encoding": {
"x": {"field": "s", "type": "quantitative", "scale": {"type": "log", "domain": [1, 1000], "nice": false},
 "axis": {"orient": "bottom", "values": [1, 10, 100, 1000], "labelExpr": "datum.value < 5 ? '1' : datum.value < 50 ? '10' : datum.value < 500 ? '10²' : '10³'", "tickSize": -7, "labelPadding": 14, "title": "Home-range area, σ² (km²)", "titleY": 52, "titleBaseline": "alphabetic"}},
"y": {"field": "v", "type": "quantitative", "scale": {"type": "log", "domain": [0.01, 100], "nice": false},
 "axis": {"orient": "left", "values": [0.01, 0.1, 1, 10, 100], "labelExpr": "datum.value < 0.05 ? '10⁻²' : datum.value < 0.5 ? '10⁻¹' : datum.value < 5 ? '1' : datum.value < 50 ? '10' : '10²'", "tickSize": -7, "labelPadding": 11, "title": "Potential collision rate, ν (day⁻¹)", "titleX": -69, "titleBaseline": "alphabetic"}},
"y2": {"datum": 1000000},
"fill": {"field": "k", "type": "ordinal", "legend": null,
 "scale": {"domain": [1,2,3,4,5,6,7,8,9,10,11,12,13,14,15,16,17,18,19], "range": ["#f4f4f4","#eaeaea","#dfdfdf","#d4d4d4","#c9c9c9","#bfbfbf","#b4b4b4","#a9a9a9","#9e9e9e","#949494","#898989","#7e7e7e","#747474","#696969","#5e5e5e","#535353","#494949","#3e3e3e","#333333"]}}
}
},
{
"data": {"name": "B"},
"mark": {"type": "line", "clip": true, "strokeWidth": 0.7},
"encoding": {
"x": {"field": "s", "type": "quantitative", "scale": {"type": "log", "domain": [1, 1000], "nice": false},
 "axis": {"orient": "bottom", "values": [2,3,4,5,6,7,8,9,20,30,40,50,60,70,80,90,200,300,400,500,600,700,800,900], "labels": false, "tickSize": -3.5, "title": null, "domain": false}},
"y": {"field": "v", "type": "quantitative", "scale": {"type": "log", "domain": [0.01, 100], "nice": false},
 "axis": {"orient": "left", "values": [0.02,0.03,0.04,0.05,0.06,0.07,0.08,0.09,0.2,0.3,0.4,0.5,0.6,0.7,0.8,0.9,2,3,4,5,6,7,8,9,20,30,40,50,60,70,80,90], "labels": false, "tickSize": -3.5, "title": null, "domain": false}},
"detail": {"field": "k", "type": "nominal"},
"stroke": {"field": "k", "type": "quantitative", "legend": null, "scale": {"domain": [1, 19], "range": ["#808080", "#1e1e1e"]}}
}
},
{
"data": {"values": [{"t": "B", "x": 1.574, "y": 42.6}]},
"mark": {"type": "text", "fontSize": 27, "font": "DejaVu Serif", "align": "center", "baseline": "alphabetic", "color": "#ffffff"},
"encoding": {
"x": {"field": "x", "type": "quantitative", "scale": {"type": "log", "domain": [1, 1000], "nice": false},
 "axis": {"orient": "top", "values": [1, 10, 100, 1000], "labels": false, "tickSize": -7, "title": null}},
"y": {"field": "y", "type": "quantitative", "scale": {"type": "log", "domain": [0.01, 100], "nice": false},
 "axis": {"orient": "right", "values": [0.01, 0.1, 1, 10, 100], "labels": false, "tickSize": -7, "title": null}},
"text": {"field": "t"}
}
},
{
"data": {"values": [{"t": "", "x": 10, "y": 1}]},
"mark": {"type": "text", "opacity": 0},
"encoding": {
"x": {"field": "x", "type": "quantitative", "scale": {"type": "log", "domain": [1, 1000], "nice": false},
 "axis": {"orient": "top", "values": [2,3,4,5,6,7,8,9,20,30,40,50,60,70,80,90,200,300,400,500,600,700,800,900], "labels": false, "tickSize": -3.5, "title": null, "domain": false}},
"y": {"field": "y", "type": "quantitative", "scale": {"type": "log", "domain": [0.01, 100], "nice": false},
 "axis": {"orient": "right", "values": [0.02,0.03,0.04,0.05,0.06,0.07,0.08,0.09,0.2,0.3,0.4,0.5,0.6,0.7,0.8,0.9,2,3,4,5,6,7,8,9,20,30,40,50,60,70,80,90], "labels": false, "tickSize": -3.5, "title": null, "domain": false}},
"text": {"field": "t"}
}
}
]
},
{
"width": 21, "height": 342,
"data": {"name": "cb"},
"mark": {"type": "rect", "stroke": "#3a3a3a", "strokeWidth": 0.8},
"encoding": {
"y": {"field": "lo", "type": "quantitative", "scale": {"domain": [0, 1], "nice": false, "zero": false},
 "axis": {"orient": "right", "values": [0.05, 0.2, 0.35, 0.5, 0.65, 0.8, 0.95], "labelExpr": "indexof(['0.05','0.35','0.65','0.95'], format(datum.value, '.2f')) >= 0 ? format(datum.value, '.2f') : ''", "tickSize": 6, "labelPadding": 2, "domain": false, "title": "Probability of premature death", "titleX": 64, "titleBaseline": "alphabetic",
  "tickColor": {"condition": {"test": "indexof(['0.20','0.50','0.80'], format(datum.value, '.2f')) >= 0", "value": "#c8c8c8"}, "value": "#555555"}}},
"y2": {"field": "hi"},
"fill": {"field": "k", "type": "ordinal", "legend": null,
 "scale": {"domain": [0,1,2,3,4,5,6,7,8,9,10,11,12,13,14,15,16,17,18,19], "range": ["#ffffff","#f4f4f4","#eaeaea","#dfdfdf","#d4d4d4","#c9c9c9","#bfbfbf","#b4b4b4","#a9a9a9","#9e9e9e","#949494","#898989","#7e7e7e","#747474","#696969","#5e5e5e","#535353","#494949","#3e3e3e","#333333"]}}
}
}
]
}
],
"config": {
"view": {"stroke": null},
"font": "DejaVu Serif",
"axis": {"grid": false, "labelFont": "DejaVu Serif", "labelFontSize": 19, "labelColor": "#000", "titleFont": "DejaVu Serif", "titleFontSize": 20.5, "titleFontWeight": "normal", "titleColor": "#000", "tickColor": "#000", "domainColor": "#000", "domainWidth": 1, "tickWidth": 1, "labelFlush": false, "labelOverlap": false, "zindex": 1}
}
}
